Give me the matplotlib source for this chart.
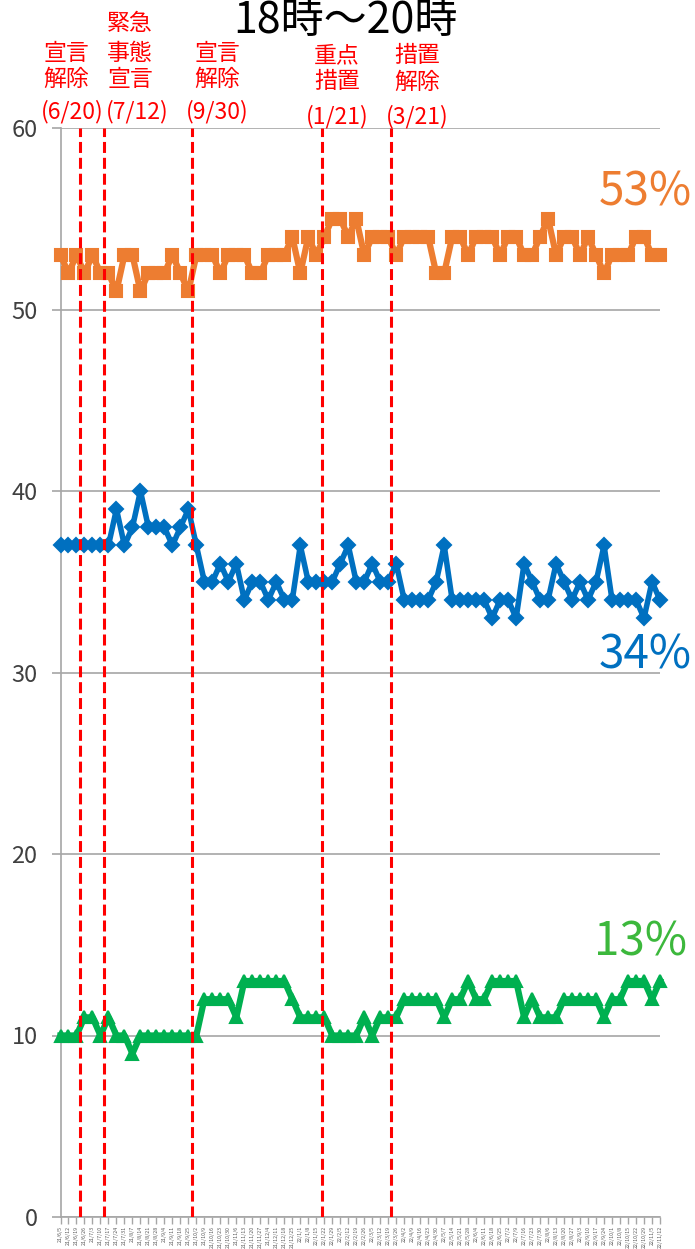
import matplotlib
matplotlib.use("Agg")
import matplotlib.pyplot as plt
import pandas as pd

plt.rcParams['font.family'] = ['Noto Sans CJK JP', 'DejaVu Sans']

# weekly categories on the x axis
weeks = pd.date_range('2021-06-05', periods=76, freq='7D')
week_labels = [f'{d.year % 100}/{d.month}/{d.day}' for d in weeks]

top_share = [53, 52, 53, 52, 53, 52, 52, 51, 53, 53, 51, 52, 52, 52, 53, 52, 51, 53, 53, 53,
             52, 53, 53, 53, 52, 52, 53, 53, 53, 54, 52, 54, 53, 54, 55, 55, 54, 55, 53, 54,
             54, 54, 53, 54, 54, 54, 54, 52, 52, 54, 54, 53, 54, 54, 54, 53, 54, 54, 53, 53,
             54, 55, 53, 54, 54, 53, 54, 53, 52, 53, 53, 53, 54, 54, 53, 53]
mid_share = [37, 37, 37, 37, 37, 37, 37, 39, 37, 38, 40, 38, 38, 38, 37, 38, 39, 37, 35, 35,
             36, 35, 36, 34, 35, 35, 34, 35, 34, 34, 37, 35, 35, 35, 35, 36, 37, 35, 35, 36,
             35, 35, 36, 34, 34, 34, 34, 35, 37, 34, 34, 34, 34, 34, 33, 34, 34, 33, 36, 35,
             34, 34, 36, 35, 34, 35, 34, 35, 37, 34, 34, 34, 34, 33, 35, 34]
low_share = [10, 10, 10, 11, 11, 10, 11, 10, 10, 9, 10, 10, 10, 10, 10, 10, 10, 10, 12, 12,
             12, 12, 11, 13, 13, 13, 13, 13, 13, 12, 11, 11, 11, 11, 10, 10, 10, 10, 11, 10,
             11, 11, 11, 12, 12, 12, 12, 12, 11, 12, 12, 13, 12, 12, 13, 13, 13, 13, 11, 12,
             11, 11, 11, 12, 12, 12, 12, 12, 11, 12, 12, 13, 13, 13, 12, 13]

last_labels = ['53%', '34%', '13%']

# events (position in weeks from the first category)
event_pos = [2.44, 5.44, 16.42, 32.69, 41.36]

W, H = 695, 1249
fig = plt.figure(figsize=(W / 100, H / 100), dpi=100)
ax = fig.add_axes([60.5 / W, 32 / H, 599.5 / W, 1089 / H])

x = list(range(len(weeks)))
ax.plot(x, top_share, color='#ED7D31', lw=4.5, marker='s', ms=8, mew=1.5,
        solid_joinstyle='round', clip_on=False, zorder=3)
ax.plot(x, mid_share, color='#0070C0', lw=4, marker='D', ms=7.5, mew=1.5,
        solid_joinstyle='round', clip_on=False, zorder=3)
ax.plot(x, low_share, color='#00B050', lw=4.5, marker='^', ms=8.5, mew=1.5,
        solid_joinstyle='round', clip_on=False, zorder=3)

for p in event_pos:
    ax.axvline(p, color='#FF0000', lw=2.2, ls=(0, (3.6, 1.6)), zorder=4)

ax.set_xlim(0, len(weeks) - 1)
ax.set_ylim(0, 60)
ax.set_yticks(range(0, 61, 10))
ax.grid(axis='y', color='#A6A6A6', lw=1.2, zorder=0)
ax.set_axisbelow(True)
for s in ['top', 'right']:
    ax.spines[s].set_visible(False)
for s in ['left', 'bottom']:
    ax.spines[s].set_color('#A6A6A6')
    ax.spines[s].set_linewidth(1.2)
ax.tick_params(axis='y', length=6.5, width=1.2, color='#A6A6A6', labelsize=17,
               pad=10, labelcolor='#404040')
ax.set_xticks(x)
ax.set_xticklabels(week_labels, rotation=90, fontsize=3.8, color='#595959')
ax.tick_params(axis='x', length=5, width=1, color='#A6A6A6', pad=1.5)

# title and labels (pixel positions)
def px(xp, yp):
    return xp / W, 1 - yp / H

fig.text(*px(345, 21), '18時～20時', fontsize=31, ha='center', va='center', color='black')

red = '#FF0000'
kw = dict(fontsize=16.5, ha='center', va='center', color=red)
fig.text(*px(66, 54), '宣言', **kw)
fig.text(*px(66, 79), '解除', **kw)
fig.text(*px(72, 112), '(6/20)', **kw)
fig.text(*px(130, 24), '緊急', **kw)
fig.text(*px(130, 54), '事態', **kw)
fig.text(*px(130, 79), '宣言', **kw)
fig.text(*px(137, 112), '(7/12)', **kw)
fig.text(*px(217, 54), '宣言', **kw)
fig.text(*px(217, 79), '解除', **kw)
fig.text(*px(217, 112), '(9/30)', **kw)
fig.text(*px(337, 56), '重点', **kw)
fig.text(*px(337, 82), '措置', **kw)
fig.text(*px(337, 117), '(1/21)', **kw)
fig.text(*px(417, 56), '措置', **kw)
fig.text(*px(417, 82), '解除', **kw)
fig.text(*px(417, 117), '(3/21)', **kw)

fig.text(*px(645, 192), last_labels[0], fontsize=33, ha='center', va='center', color='#ED7D31')
fig.text(*px(645, 655), last_labels[1], fontsize=33, ha='center', va='center', color='#0070C0')
fig.text(*px(641, 942), last_labels[2], fontsize=33, ha='center', va='center', color='#3CB83C')

fig.savefig('out.png', dpi=100)
